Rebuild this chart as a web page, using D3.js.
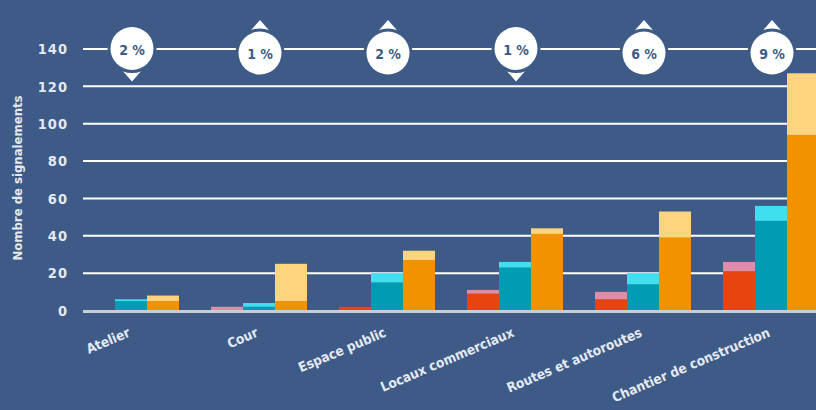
<!DOCTYPE html>
<html>
<head>
<meta charset="utf-8">
<script src="https://cdn.jsdelivr.net/npm/d3@7"></script>
<style>
  html, body { margin: 0; padding: 0; background: #3e5b87; }
  svg { display: block; }
  text { font-family: "DejaVu Sans Condensed", "DejaVu Sans", sans-serif; font-weight: bold; }
</style>
</head>
<body>
<div id="vis"></div>
<script>
const W = 816;
const H = 410;
const margin = { top: 49, right: -3, bottom: 99, left: 83 };

// Data
const categories = ["Atelier", "Cour", "Espace public", "Locaux commerciaux", "Routes et autoroutes", "Chantier de construction"];

// each series: darker lower part, then total (lighter part on top)
const redBase = [0, 0, 2, 9, 6, 21];
const redTotal = [0, 2, 2, 11, 10, 26];
const tealBase = [5, 2, 15, 23, 14, 48];
const tealTotal = [6, 4, 20, 26, 20, 56];
const orangeBase = [5, 5, 27, 41, 39, 94];
const orangeTotal = [8, 25, 32, 44, 53, 127];

const variations = ["2 %", "1 %", "2 %", "1 %", "6 %", "9 %"];
const directions = ["down", "up", "up", "down", "up", "up"];

const yTicks = [0, 20, 40, 60, 80, 100, 120, 140];
const yTitle = "Nombre de signalements";

const seriesNames = ["red", "teal", "orange"];
const colors = {
  red: ["#e8440f", "#e08ba7"],
  teal: ["#019cb4", "#3fdff0"],
  orange: ["#f39200", "#ffd47e"]
};
const bg = "#3e5b87";
const textColor = "#e4e9f1";

const series = [
  { key: "red", base: redBase, total: redTotal },
  { key: "teal", base: tealBase, total: tealTotal },
  { key: "orange", base: orangeBase, total: orangeTotal }
];

const svg = d3.select("#vis").append("svg")
  .attr("width", W)
  .attr("height", H);

svg.append("rect").attr("width", W).attr("height", H).attr("fill", bg);

const x0 = d3.scaleBand()
  .domain(categories)
  .range([margin.left, W - margin.right])
  .paddingInner(0.25)
  .paddingOuter(0)
  .align(0);

const x1 = d3.scaleBand()
  .domain(seriesNames)
  .range([0, x0.bandwidth()]);

const y = d3.scaleLinear()
  .domain([0, 140])
  .range([H - margin.bottom - 0.5, margin.top]);

// gridlines
svg.append("g")
  .selectAll("line")
  .data(yTicks.filter(d => d > 0))
  .join("line")
  .attr("x1", margin.left)
  .attr("x2", W)
  .attr("y1", d => y(d))
  .attr("y2", d => y(d))
  .attr("stroke", "#ffffff")
  .attr("stroke-width", 2);

// tick labels
svg.append("g")
  .selectAll("text")
  .data(yTicks)
  .join("text")
  .attr("x", 68)
  .attr("y", d => y(d))
  .attr("dy", "0.36em")
  .attr("text-anchor", "end")
  .attr("fill", textColor)
  .style("font-size", "14.5px")
  .style("letter-spacing", "1px")
  .text(d => d);

// y title
svg.append("text")
  .attr("transform", `translate(22, 178) rotate(-90)`)
  .attr("text-anchor", "middle")
  .attr("fill", textColor)
  .style("font-size", "13px")
  .text(yTitle);

// bars
const groups = svg.append("g")
  .selectAll("g")
  .data(categories)
  .join("g")
  .attr("transform", d => `translate(${x0(d)},0)`);

groups.each(function (cat, i) {
  const g = d3.select(this);
  series.forEach(s => {
    const bx = x1(s.key);
    const bw = x1.bandwidth();
    // lower (darker) part
    g.append("rect")
      .attr("x", bx)
      .attr("width", bw)
      .attr("y", y(s.base[i]))
      .attr("height", y(0) - y(s.base[i]))
      .attr("fill", colors[s.key][0]);
    // upper (lighter) part
    g.append("rect")
      .attr("x", bx)
      .attr("width", bw)
      .attr("y", y(s.total[i]))
      .attr("height", y(s.base[i]) - y(s.total[i]))
      .attr("fill", colors[s.key][1]);
  });
});

// baseline
svg.append("line")
  .attr("x1", margin.left)
  .attr("x2", W)
  .attr("y1", y(0) + 1)
  .attr("y2", y(0) + 1)
  .attr("stroke", "#c9ced6")
  .attr("stroke-width", 3);

// category labels
svg.append("g")
  .selectAll("text")
  .data(categories)
  .join("text")
  .attr("transform", d => `translate(${x0(d) + x0.bandwidth() / 2},336) rotate(-23)`)
  .attr("text-anchor", "end")
  .attr("fill", textColor)
  .style("font-size", "13.5px")
  .text(d => d);

// variation bubbles
const bubbles = svg.append("g")
  .selectAll("g")
  .data(categories)
  .join("g")
  .attr("transform", (d, i) => {
    const cy = directions[i] === "up" ? 53 : 48.5;
    return `translate(${x0(d) + x0.bandwidth() / 2 + 1},${cy})`;
  });

bubbles.append("path")
  .attr("d", (d, i) => directions[i] === "up"
    ? "M-14,-17 L0,-33 L14,-17 Z"
    : "M-14,17 L0,33 L14,17 Z")
  .attr("fill", "#ffffff");

bubbles.append("circle")
  .attr("r", 24.5)
  .attr("fill", bg);

bubbles.append("circle")
  .attr("r", 21.5)
  .attr("fill", "#ffffff");

bubbles.append("text")
  .attr("y", 1)
  .attr("dy", "0.36em")
  .attr("text-anchor", "middle")
  .attr("fill", bg)
  .style("font-size", "14px")
  .text((d, i) => variations[i]);
</script>
</body>
</html>
